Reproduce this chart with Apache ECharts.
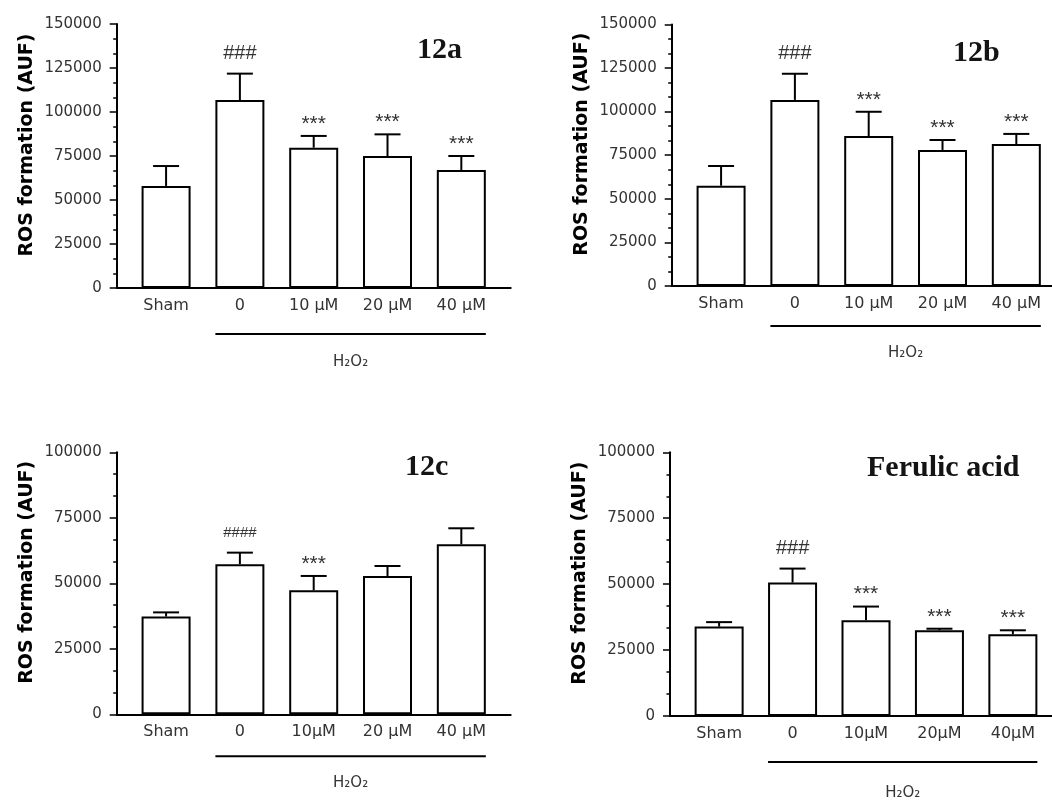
<!DOCTYPE html>
<html>
<head>
<meta charset="utf-8">
<script src="https://cdn.jsdelivr.net/npm/echarts@6/dist/echarts.min.js"></script>
<style>html,body{margin:0;padding:0;background:#fff}#c{width:1052px;height:805px}</style>
</head>
<body>
<div id="c"></div>
<script>
// ---- data ----
const catsAB = ['Sham', '0', '10 µM', '20 µM', '40 µM'];
const catsC = ['Sham', '0', '10µM', '20 µM', '40 µM'];
const catsD = ['Sham', '0', '10µM', '20µM', '40µM'];

const mean12a = [58000, 106800, 79700, 75000, 67000];
const err12a = [11300, 15000, 6700, 12300, 8000];
const ann12a = ['', '###', '***', '***', '***'];

const mean12b = [57500, 106700, 86000, 78000, 81400];
const err12b = [11300, 15000, 13900, 5700, 5800];
const ann12b = ['', '###', '***', '***', '***'];

const mean12c = [37300, 57300, 47300, 52800, 64900];
const err12c = [1600, 4400, 5500, 3800, 6100];
const ann12c = ['', '####', '***', '', ''];

const meanFA = [33900, 50600, 36300, 32500, 31000];
const errFA = [1700, 5300, 5200, 600, 1500];
const annFA = ['', '###', '***', '***', '***'];

const yTicks150 = [0, 150000, 25000];
const yTicks100 = [0, 100000, 25000];
const groupSpan = [1, 4];
const groupLabel = 'H₂O₂';
const yName = 'ROS formation (AUF)';

// ---- layout ----
const panels = [
  {title: '12a', cats: catsAB, mean: mean12a, err: err12a, ann: ann12a, y: yTicks150,
   grid: {left: 116.7, top: 24, width: 394, height: 264}, tl: [417, 35], brk: [46, 74]},
  {title: '12b', cats: catsAB, mean: mean12b, err: err12b, ann: ann12b, y: yTicks150,
   grid: {left: 671.7, top: 24.4, width: 394, height: 261.6}, tl: [953, 38], brk: [40, 67]},
  {title: '12c', cats: catsC, mean: mean12c, err: err12c, ann: ann12c, y: yTicks100,
   grid: {left: 116.7, top: 452.3, width: 394, height: 262}, tl: [405, 452], brk: [42, 69]},
  {title: 'Ferulic acid', cats: catsD, mean: meanFA, err: errFA, ann: annFA, y: yTicks100,
   grid: {left: 670, top: 452.3, width: 392, height: 263.7}, tl: [867, 453], brk: [46, 77]}
];

const BAR_W = 49;
const option = {
  animation: false,
  backgroundColor: '#fff',
  title: [], grid: [], xAxis: [], yAxis: [], series: []
};

panels.forEach((p, k) => {
  option.title.push({
    text: p.title, left: p.tl[0], top: p.tl[1], padding: 0,
    textStyle: {fontFamily: 'Liberation Serif', fontWeight: 'bold', fontSize: 30, color: '#141414'}
  });
  option.grid.push(Object.assign({outerBoundsMode: 'none', containLabel: false}, p.grid));
  option.xAxis.push({
    type: 'value', gridIndex: k, min: -0.669, max: 4.669,
    splitLine: {show: false}, axisTick: {show: false},
    axisLine: {show: true, onZero: false, lineStyle: {color: '#000', width: 2}},
    axisLabel: {
      show: true, customValues: p.cats.map((c, i) => i), margin: 10,
      formatter: (v) => p.cats[Math.round(v)],
      fontFamily: 'DejaVu Sans', fontSize: 16, color: '#333'
    }
  });
  option.yAxis.push({
    type: 'value', gridIndex: k, min: p.y[0], max: p.y[1], interval: p.y[2],
    name: yName, nameLocation: 'middle', nameGap: 80, nameRotate: 90,
    nameTextStyle: {fontFamily: 'DejaVu Sans', fontWeight: 'bold', fontSize: 19, color: '#000', padding: [0, 0, 0, 22]},
    splitLine: {show: false},
    axisLine: {show: true, onZero: false, lineStyle: {color: '#000', width: 2}},
    axisTick: {show: true, length: 7, lineStyle: {color: '#000', width: 1.5}},
    minorTick: {show: true, splitNumber: 3, length: 3.5, lineStyle: {color: '#000', width: 1.5}},
    minorSplitLine: {show: false},
    axisLabel: {margin: 15, formatter: (v) => String(v), fontFamily: 'DejaVu Sans', fontSize: 15, color: '#333'}
  });
  option.series.push({
    type: 'bar', xAxisIndex: k, yAxisIndex: k, barWidth: BAR_W, silent: true,
    data: p.mean.map((m, i) => [i, m]),
    itemStyle: {color: '#fff', borderColor: '#000', borderWidth: 2}
  });
  option.series.push({
    type: 'custom', xAxisIndex: k, yAxisIndex: k, silent: true, clip: false, z: 5,
    data: p.mean.map((m, i) => [i, m, p.err[i]]),
    renderItem: (params, api) => {
      const x = api.value(0), m = api.value(1), e = api.value(2);
      const t = api.coord([x, m]);
      const c = api.coord([x, m + e]);
      const a = p.ann[params.dataIndex];
      const isHash = a.indexOf('#') >= 0;
      const children = [
        {type: 'line', shape: {x1: t[0], y1: t[1], x2: c[0], y2: c[1]}, style: {stroke: '#000', lineWidth: 2}},
        {type: 'line', shape: {x1: c[0] - 13, y1: c[1], x2: c[0] + 13, y2: c[1]}, style: {stroke: '#000', lineWidth: 2}}
      ];
      if (a) {
        children.push({
          type: 'text',
          style: {
            x: c[0], y: c[1] - (isHash ? 20 : 12), text: a,
            align: 'center', verticalAlign: 'middle',
            font: (isHash ? (a.length > 3 ? '15px' : '20px') : '21px') + ' "Liberation Sans"',
            fill: '#333'
          }
        });
      }
      return {type: 'group', children: children};
    }
  });
  option.series.push({
    type: 'custom', xAxisIndex: k, yAxisIndex: k, silent: true, clip: false, z: 5,
    data: [groupSpan],
    renderItem: (params, api) => {
      const a = api.coord([api.value(0), 0]);
      const b = api.coord([api.value(1), 0]);
      const x1 = a[0] - BAR_W / 2, x2 = b[0] + BAR_W / 2;
      return {type: 'group', children: [
        {type: 'line', shape: {x1: x1, y1: a[1] + p.brk[0], x2: x2, y2: a[1] + p.brk[0]}, style: {stroke: '#000', lineWidth: 2}},
        {type: 'text', style: {x: (x1 + x2) / 2, y: a[1] + p.brk[1], text: groupLabel, align: 'center', verticalAlign: 'middle',
          font: '15px "DejaVu Sans"', fill: '#333'}}
      ]};
    }
  });
});

const chart = echarts.init(document.getElementById('c'), null, {renderer: 'canvas'});
chart.setOption(option);
</script>
</body>
</html>
